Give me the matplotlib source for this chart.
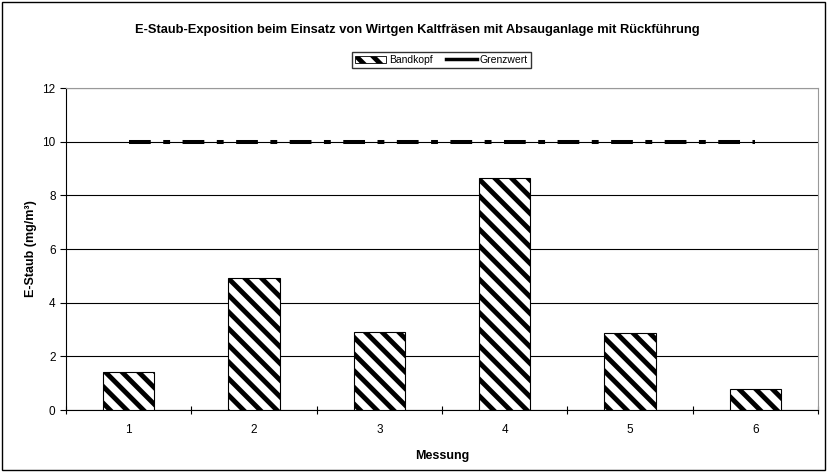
import matplotlib.pyplot as plt
from matplotlib.patches import Patch, Rectangle
from matplotlib.lines import Line2D

plt.rcParams['font.family'] = ['Liberation Sans', 'DejaVu Sans']
plt.rcParams['hatch.linewidth'] = 3.5

# data
messung = ["1", "2", "3", "4", "5", "6"]
bandkopf = [1.42, 4.93, 2.9, 8.65, 2.87, 0.78]
grenzwert = [10, 10, 10, 10, 10, 10]

fig = plt.figure(figsize=(8.27, 4.75), dpi=100)
ax = fig.add_axes([0.0798, 0.1368, 0.9093, 0.6779])

x = list(range(len(messung)))
ax.bar(x, bandkopf, width=0.41, color="white", edgecolor="black",
       hatch="\\\\", linewidth=0.8, zorder=3)
ax.plot(x, grenzwert, color="black", linewidth=2.9,
        dashes=(5.4, 3.1, 1.7, 3.1), solid_capstyle="butt",
        dash_capstyle="butt", zorder=4)

ax.set_xlim(-0.5, 5.5)
ax.set_ylim(0, 12)
ax.set_yticks(range(0, 13, 2))
ax.set_xticks(x)
ax.set_xticklabels(messung)
ax.set_xticks([i - 0.5 for i in range(7)], minor=True)
ax.tick_params(axis="x", which="major", length=0, labelsize=8.5, pad=10)
ax.tick_params(axis="x", which="minor", length=6, direction="inout", width=0.8)
ax.tick_params(axis="y", length=4, direction="out", labelsize=8.5, width=0.8)
ax.grid(axis="y", color="black", linewidth=0.8, zorder=0)

for side in ["top", "right"]:
    ax.spines[side].set_color("#999999")
for side in ["left", "bottom"]:
    ax.spines[side].set_color("black")
    ax.spines[side].set_linewidth(0.8)

ax.set_xlabel("Messung", fontsize=9, fontweight="bold", labelpad=10)
ax.set_ylabel("E-Staub (mg/m³)", fontsize=9, fontweight="bold", labelpad=4)

fig.text(0.505, 0.937, "E-Staub-Exposition beim Einsatz von Wirtgen Kaltfräsen mit Absauganlage mit Rückführung",
         ha="center", va="center", fontsize=9.3, fontweight="bold")

handles = [Patch(facecolor="white", edgecolor="black", hatch="\\\\", linewidth=0.6),
           Line2D([0], [0], color="black", linewidth=2.5)]
fig.legend(handles, ["Bandkopf", "Grenzwert"], loc="center", bbox_to_anchor=(0.534, 0.874),
           ncol=2, fontsize=7.5, frameon=True, fancybox=False, edgecolor="black",
           handlelength=3, handletextpad=0.3, columnspacing=1.2, borderpad=0.3)

fig.patches.append(Rectangle((0.003, 0.01), 0.994, 0.985, transform=fig.transFigure,
                             fill=False, edgecolor="black", linewidth=1))

fig.savefig("out.png", dpi=100)
